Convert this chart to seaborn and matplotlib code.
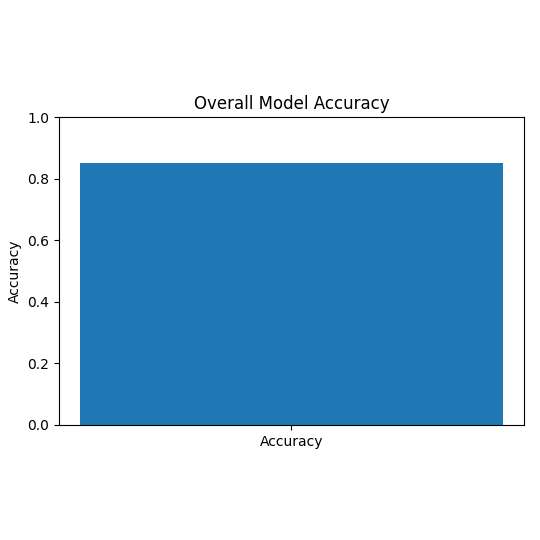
import matplotlib
matplotlib.use("Agg")
import matplotlib.pyplot as plt
import seaborn as sns
import pandas as pd

# Data
metrics = ["Accuracy"]
scores = [0.85]

df = pd.DataFrame({"Metric": metrics, "Score": scores})

fig = plt.figure(figsize=(5.4, 5.4), dpi=100)
ax = fig.add_axes([0.109, 0.213, 0.861, 0.570])

sns.barplot(data=df, x="Metric", y="Score", color="#1f77b4", saturation=1, width=0.8, ax=ax)

ax.set_xlim(-0.44, 0.44)
ax.set_ylim(0, 1)
ax.set_xlabel("")
ax.set_ylabel("Accuracy")
ax.set_title("Overall Model Accuracy")

fig.savefig("out.png", dpi=100)
